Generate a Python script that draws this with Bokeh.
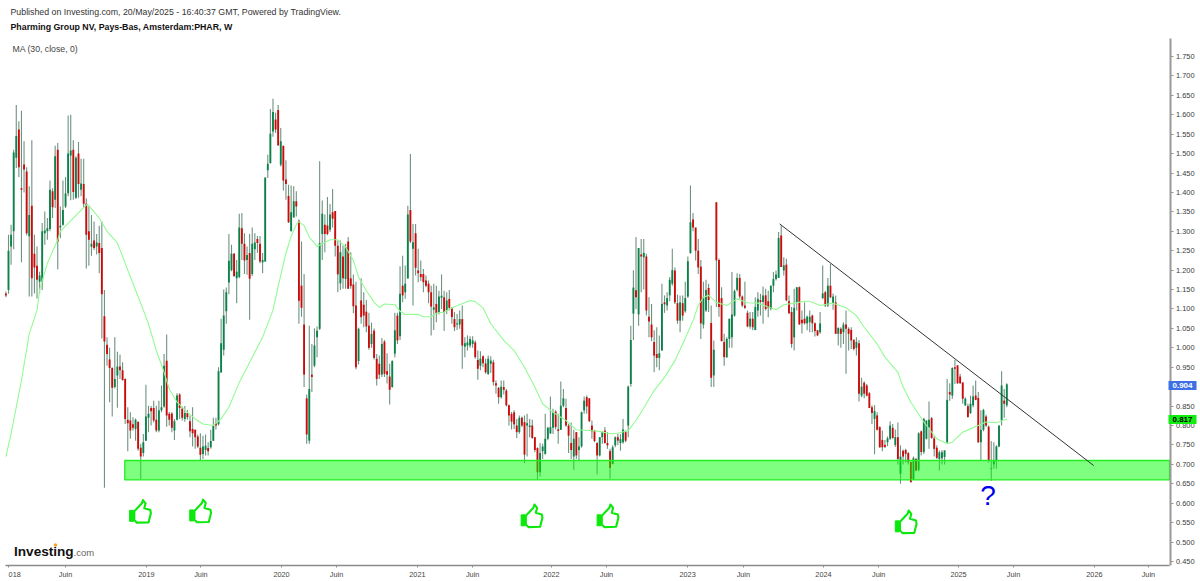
from bokeh.plotting import figure
from bokeh.models import Range1d, FixedTicker, Label, LinearAxis, NumeralTickFormatter
from bokeh.core.properties import value
from bokeh.embed import file_html
from bokeh.resources import INLINE

opens = [1.14,1.149,1.261,1.30,1.489,1.562,1.411,1.472,1.454,1.287,
1.366,1.242,1.211,1.17,1.17,1.295,1.30,1.306,1.403,1.381,
1.51,1.31,1.317,1.364,1.398,1.495,1.51,1.386,1.5,1.407,
1.422,1.371,1.30,1.26,1.276,1.261,1.27,1.257,1.081,1.008,
.97,.948,.899,.929,.952,.942,.92,.815,.813,.803,
.791,.81,.743,.729,.761,.82,.845,.845,.815,.787,
.839,.849,.967,.83,.831,.787,.815,.88,.843,.817,
.832,.811,.791,.789,.772,.743,.727,.737,.742,.744,
.761,.807,.803,.937,.995,1.094,1.168,1.20,1.242,1.179,
1.182,1.308,1.268,1.226,1.244,1.19,1.254,1.28,1.268,1.22,
1.222,1.457,1.476,1.557,1.588,1.612,1.471,1.52,1.433,1.391,
1.30,1.336,1.377,1.327,1.16,1.06,.87,.761,.931,.954,
1.027,1.049,1.293,1.317,1.315,1.304,1.349,1.352,1.263,1.166,
1.235,1.177,1.274,1.179,1.163,1.109,.966,1.122,1.111,1.093,
1.057,1.01,1.044,.972,.959,.931,1.016,.94,.926,.899,
.985,1.083,1.03,1.16,1.143,1.179,1.355,1.255,1.295,1.199,
1.19,1.19,1.173,1.165,1.143,1.098,1.113,1.092,1.129,1.13,
1.096,1.126,1.102,1.074,1.06,1.06,1.074,1.003,1.006,1.006,
1.01,1.014,.969,.954,.978,.96,.933,.959,.963,.909,
.897,.873,.899,.89,.852,.83,.834,.80,.783,.82,
.809,.80,.796,.80,.77,.742,.68,.734,.727,.766,
.78,.794,.836,.79,.789,.851,.845,.80,.755,.72,
.783,.737,.746,.839,.873,.87,.80,.787,.755,.723,
.77,.787,.755,.734,.701,.749,.77,.755,.757,.783,
.80,.907,1.088,1.148,1.086,1.24,1.233,1.235,1.08,1.06,
1.015,.984,.974,.993,1.117,1.109,1.135,1.165,1.199,1.115,
1.07,1.115,1.094,1.132,1.244,1.33,1.31,1.25,1.209,1.06,
1.096,1.154,1.064,.929,1.375,1.226,1.128,1.015,.976,1.023,
1.027,1.083,1.149,1.18,1.132,1.109,1.09,1.055,1.075,1.046,
1.096,1.123,1.118,1.135,1.12,1.10,1.16,1.177,1.18,1.289,
1.199,1.214,1.12,1.092,1.027,1.117,1.156,1.072,1.075,1.063,
1.066,1.083,1.063,1.045,1.04,1.128,1.143,1.109,1.16,1.113,
1.117,1.036,1.049,1.04,1.06,1.049,1.046,1.02,1.0,1.012,
.877,.91,.903,.883,.847,.817,.826,.796,.763,.75,
.757,.766,.794,.75,.77,.676,.735,.737,.729,.706,
.66,.714,.686,.785,.732,.766,.795,.819,.767,.743,
.714,.716,.719,.757,.886,.877,.95,.955,.926,.911,
.852,.85,.832,.852,.877,.871,.757,.789,.823,.797,
.688,.70,.71,.746,.813,.864,.852]

highs = [1.145,1.291,1.317,1.51,1.625,1.583,1.61,1.532,1.465,1.416,
1.534,1.291,1.261,1.196,1.321,1.351,1.334,1.431,1.411,1.52,
1.527,1.364,1.431,1.44,1.598,1.6,1.534,1.493,1.53,1.487,
1.487,1.385,1.364,1.342,1.325,1.293,1.314,1.325,1.149,1.027,
1.0,.95,1.027,.99,.983,.963,.922,.847,.834,.821,
.818,.81,.753,.778,.905,.851,.85,.864,.851,.864,
.903,.984,1.034,.835,.834,.817,.883,.883,.849,.85,
.84,.826,.847,.79,.777,.78,.774,.777,.757,.789,
.82,.82,.95,1.075,1.15,1.155,1.293,1.265,1.244,1.226,
1.345,1.347,1.295,1.261,1.293,1.31,1.295,1.288,1.288,1.244,
1.44,1.497,1.615,1.641,1.605,1.625,1.566,1.52,1.483,1.42,
1.418,1.416,1.403,1.33,1.274,1.19,.88,1.057,1.01,1.05,
1.055,1.48,1.379,1.343,1.388,1.37,1.409,1.352,1.276,1.276,
1.263,1.267,1.285,1.246,1.189,1.17,1.052,1.179,1.143,1.123,
1.09,1.065,1.05,.984,.98,1.025,1.02,.986,.959,.968,
1.09,1.09,1.21,1.237,1.212,1.366,1.499,1.319,1.319,1.255,
1.225,1.203,1.186,1.173,1.16,1.165,1.16,1.147,1.189,1.147,
1.143,1.149,1.105,1.092,1.087,1.096,1.109,1.027,1.032,1.03,
1.03,1.019,.993,.991,.98,.972,.98,.978,.969,.916,
.899,.916,.916,.894,.854,.835,.839,.817,.826,.823,
.826,.83,.817,.815,.77,.744,.755,.753,.83,.797,
.875,.843,.839,.83,.913,.894,.869,.804,.808,.789,
.783,.77,.836,.875,.877,.87,.813,.789,.757,.77,
.785,.796,.783,.74,.749,.772,.778,.778,.817,.787,
.903,1.057,1.20,1.285,1.257,1.28,1.28,1.242,1.13,1.113,
1.045,1.053,1.032,1.165,1.135,1.143,1.182,1.255,1.207,1.137,
1.135,1.135,1.17,1.235,1.418,1.347,1.31,1.28,1.226,1.17,
1.175,1.165,1.109,1.019,1.375,1.23,1.156,1.036,1.027,1.075,
1.195,1.15,1.192,1.19,1.135,1.17,1.096,1.092,1.092,1.13,
1.143,1.139,1.158,1.152,1.147,1.16,1.195,1.199,1.298,1.315,
1.233,1.229,1.135,1.105,1.152,1.156,1.158,1.096,1.117,1.083,
1.096,1.085,1.066,1.046,1.092,1.212,1.146,1.18,1.216,1.14,
1.135,1.053,1.053,1.066,1.096,1.053,1.053,1.023,1.027,1.02,
.923,.914,.907,.886,.852,.852,.834,.798,.787,.763,
.772,.811,.804,.79,.808,.749,.738,.74,.732,.706,
.72,.717,.783,.787,.82,.813,.862,.822,.774,.749,
.736,.737,.736,.92,.909,.95,.969,.955,.933,.911,
.873,.856,.877,.903,.916,.886,.839,.843,.828,.80,
.76,.757,.749,.80,.94,.894,.909]

lows = [1.13,1.139,1.214,1.254,1.463,1.44,1.22,1.40,1.29,1.132,
1.132,1.14,1.127,1.14,1.149,1.265,1.278,1.30,1.334,1.36,
1.202,1.282,1.314,1.36,1.39,1.38,1.381,1.383,1.386,1.39,
1.36,1.204,1.211,1.237,1.252,1.24,1.192,1.024,.64,.954,
.86,.823,.895,.846,.92,.915,.804,.734,.766,.787,
.761,.735,.662,.72,.76,.783,.80,.808,.783,.783,
.834,.846,.797,.80,.783,.763,.813,.817,.813,.81,
.815,.77,.746,.74,.742,.71,.714,.723,.723,.74,
.76,.79,.80,.935,.98,1.062,1.138,1.197,1.182,1.115,
1.179,1.226,1.19,1.188,1.072,1.185,1.226,1.245,1.218,1.192,
1.222,1.437,1.474,1.543,1.553,1.521,1.467,1.405,1.381,1.321,
1.30,1.334,1.338,1.062,1.08,.899,.753,.753,.886,.95,
.976,1.046,1.226,1.246,1.29,1.298,1.31,1.235,1.143,1.149,
1.152,1.152,1.152,1.152,1.089,.945,.957,1.062,1.053,1.04,
.995,1.0,.97,.903,.92,.925,.925,.908,.854,.897,
.975,1.01,1.02,1.117,1.126,1.177,1.27,1.109,1.186,1.169,
1.172,1.143,1.156,1.115,1.032,1.046,1.066,1.086,1.10,1.043,
1.087,1.096,1.062,1.043,1.046,1.049,.946,.976,.993,1.0,
1.0,.972,.918,.942,.95,.933,.93,.935,.903,.882,
.856,.869,.88,.849,.80,.79,.791,.768,.779,.796,
.703,.72,.77,.766,.731,.66,.669,.714,.725,.762,
.778,.778,.79,.753,.789,.847,.797,.729,.714,.686,
.714,.71,.743,.83,.83,.809,.766,.757,.674,.72,
.753,.753,.74,.663,.70,.744,.749,.735,.753,.757,
.77,.90,1.02,1.10,1.057,1.143,1.15,1.083,1.027,1.017,
.937,.95,.942,.993,1.09,1.096,1.12,1.16,1.113,1.062,
1.04,1.07,1.09,1.128,1.242,1.30,1.225,1.19,1.023,1.05,
1.092,1.092,.899,.899,1.105,1.08,1.017,.954,.974,1.0,
1.0,1.08,1.145,1.126,1.105,1.10,1.053,1.049,1.045,1.045,
1.08,1.083,1.062,1.096,1.079,1.096,1.143,1.173,1.18,1.208,
1.186,1.12,1.087,1.0,.993,1.096,1.06,1.037,1.06,1.045,
1.04,1.04,1.029,1.03,1.036,1.125,1.105,1.105,1.128,1.098,
1.036,1.006,1.0,1.01,.933,.993,.997,.993,.98,.862,
.873,.87,.875,.845,.804,.726,.787,.743,.734,.742,
.747,.763,.766,.745,.70,.65,.70,.705,.70,.654,
.66,.682,.682,.723,.727,.764,.74,.766,.72,.714,
.684,.70,.70,.753,.864,.869,.907,.907,.907,.856,
.85,.82,.83,.847,.865,.755,.71,.785,.796,.705,
.658,.689,.689,.744,.80,.82,.847]

closes = [1.135,1.25,1.291,1.503,1.545,1.465,1.407,1.459,1.295,1.342,
1.179,1.207,1.175,1.186,1.30,1.302,1.308,1.407,1.362,1.493,
1.274,1.314,1.355,1.397,1.5,1.508,1.401,1.489,1.422,1.423,
1.371,1.291,1.278,1.268,1.257,1.271,1.244,1.138,1.016,.984,
.948,.897,.92,.952,.942,.917,.817,.806,.787,.794,
.815,.74,.72,.757,.823,.83,.837,.813,.787,.839,
.847,.954,.826,.815,.794,.811,.877,.845,.82,.832,
.821,.785,.78,.77,.746,.725,.746,.748,.734,.76,
.80,.80,.94,1.012,1.083,1.143,1.224,1.242,1.185,1.196,
1.31,1.268,1.225,1.239,1.178,1.268,1.271,1.27,1.222,1.226,
1.438,1.474,1.551,1.607,1.562,1.521,1.532,1.431,1.422,1.323,
1.349,1.377,1.364,1.121,1.103,.931,.777,.894,.925,1.006,
1.044,1.269,1.345,1.293,1.293,1.343,1.332,1.263,1.189,1.246,
1.179,1.259,1.152,1.159,1.107,.95,1.049,1.079,1.083,1.055,
1.0,1.036,.974,.92,.931,1.01,.933,.931,.892,.966,
1.045,1.019,1.139,1.135,1.165,1.343,1.274,1.272,1.206,1.192,
1.182,1.169,1.16,1.143,1.106,1.104,1.089,1.132,1.134,1.092,
1.122,1.103,1.079,1.053,1.063,1.074,1.006,1.012,1.014,1.023,
1.019,.976,.946,.972,.96,.937,.972,.967,.912,.903,
.873,.90,.892,.852,.826,.81,.803,.783,.82,.80,
.725,.806,.80,.768,.737,.68,.729,.746,.766,.794,
.796,.834,.796,.786,.851,.87,.80,.774,.737,.766,
.723,.746,.834,.864,.849,.811,.785,.76,.723,.77,
.783,.755,.749,.691,.744,.77,.761,.765,.79,.761,
.90,1.02,1.155,1.13,1.257,1.235,1.244,1.096,1.068,1.027,
.98,.974,.986,1.113,1.112,1.128,1.175,1.2,1.117,1.07,
1.117,1.083,1.128,1.223,1.323,1.31,1.25,1.207,1.063,1.13,
1.149,1.123,.923,.995,1.225,1.105,1.017,.976,1.023,1.075,
1.086,1.146,1.18,1.132,1.109,1.103,1.055,1.075,1.053,1.105,
1.126,1.118,1.135,1.10,1.103,1.16,1.177,1.189,1.283,1.208,
1.212,1.122,1.089,1.01,1.103,1.156,1.06,1.063,1.063,1.08,
1.08,1.063,1.043,1.032,1.063,1.14,1.109,1.16,1.13,1.132,
1.036,1.051,1.036,1.06,1.049,1.036,1.019,.997,1.015,.882,
.90,.882,.877,.845,.832,.837,.789,.744,.744,.745,
.767,.80,.768,.77,.714,.72,.72,.727,.706,.654,
.716,.684,.78,.732,.817,.813,.815,.768,.74,.717,
.731,.731,.736,.866,.88,.948,.946,.909,.909,.869,
.869,.822,.856,.875,.866,.757,.789,.84,.80,.71,
.69,.71,.746,.80,.903,.856,.906]

ma_weeks = [0,2,6,9,12,13,16,20,21,26,31,32,36,39,43,47,50,53,55,58,61,63,66,70,73,76,80,83,86,90,95,99,
103,105,108,110,112,113,114,115,117,120,125,128,131,134,136,139,142,144,146,150,152,154,159,161,164,166,169,173,179,181,
184,187,192,196,200,204,207,211,216,220,225,229,233,236,240,243,245,250,254,258,261,265,267,269,271,274,278,282,286,290,
294,297,300,304,308,310,314,319,324,328,331,336,339,344,346,349,354,359,363,365,369,375,378,382,386]
ma_values = [.72,.779,.916,1.036,1.097,1.149,1.218,1.278,1.30,1.334,1.368,1.366,1.334,1.30,1.27,1.2,1.149,1.097,1.062,.993,.937,.894,.86,.834,.817,.804,.80,.817,.847,.911,.976,1.027,
1.097,1.158,1.244,1.287,1.317,1.325,1.319,1.315,1.285,1.261,1.278,1.278,1.259,1.225,1.182,1.147,1.117,1.104,1.113,1.111,1.094,1.086,1.086,1.08,1.08,1.089,1.092,1.106,1.122,1.119,
1.103,1.062,1.019,.993,.95,.899,.856,.834,.813,.789,.787,.785,.779,.78,.787,.813,.834,.89,.924,.967,1.01,1.07,1.109,1.13,1.135,1.117,1.109,1.126,1.116,1.115,
1.105,1.098,1.111,1.115,1.12,1.12,1.109,1.115,1.103,1.083,1.053,1.01,.976,.937,.899,.86,.809,.766,.753,.757,.783,.80,.809,.807,.817]

trend_weeks = [298.4, 419.5]
trend_prices = [1.319, .697]
zone_low, zone_high = .66, .71
thumb_weeks = [47.7, 70.9, 198.7, 228.0, 343.0]
thumb_prices = [.61, .611, .5985, .5985, .583]
y_ticks = [.45 + .05 * k for k in range(27)]
x_ticks = [23.0, 54.2, 75.2, 106.3, 127.5, 158.7, 180.0, 210.4, 231.6, 262.9, 284.4, 315.3, 336.6, 367.4, 388.6, 419.8, 440.6]
x_labels = ["Juin", "2019", "Juin", "2020", "Juin", "2021", "Juin", "2022", "Juin", "2023", "Juin", "2024", "Juin", "2025", "Juin", "2026", "Juin"]

PX_WEEK = 2.593
PX_UNIT = 388.5
def X(px):
    return (px - 5.4) / PX_WEEK
def Y(py):
    return .45 + (561 - py) / PX_UNIT

p = figure(width=1200, height=581, output_backend="svg", toolbar_location=None,
           x_range=Range1d(X(0), X(1200)), y_range=Range1d(Y(581), Y(0)),
           min_border_left=0, min_border_right=0, min_border_top=0, min_border_bottom=0,
           x_axis_location="below", y_axis_location="right", tools="")
p.margin = 0
p.outline_line_color = None
p.grid.visible = False
p.background_fill_color = "white"

xa = p.xaxis[0]
xa.fixed_location = Y(565.3)
xa.bounds = (X(5), X(1169))
xa.ticker = FixedTicker(ticks=[1.0] + x_ticks)
xa.major_label_overrides = dict(zip(x_ticks, x_labels)) | {1.0: "\u00a0\u00a0\u00a0\u00a0018"}
xa.axis_line_color = "#8a8a8a"
xa.axis_line_width = 1.5
xa.major_tick_line_color = "#8a8a8a"
xa.major_tick_out = 2
xa.major_tick_in = 0
xa.minor_tick_line_color = None
xa.major_label_standoff = 2
xa.major_label_text_font = "Liberation Sans"
xa.major_label_text_font_size = "7.3px"
xa.major_label_text_color = "#444444"

ya = p.yaxis[0]
ya.fixed_location = X(1169.5)
ya.bounds = (Y(565), Y(38))
ya.ticker = FixedTicker(ticks=y_ticks)
ya.formatter = NumeralTickFormatter(format="0.000")
ya.axis_line_color = "#999999"
ya.axis_line_width = 2
ya.major_tick_line_color = "#999999"
ya.major_tick_out = 3
ya.major_tick_in = 0
ya.minor_tick_line_color = None
ya.major_label_standoff = 3
ya.major_label_text_font = "Liberation Sans"
ya.major_label_text_font_size = "7.4px"
ya.major_label_text_color = "#3a3a3a"

weeks = list(range(len(closes)))
up = [c >= o for o, c in zip(opens, closes)]
mid_up = [w for w, u in zip(weeks, up) if u]
mid_dn = [w for w, u in zip(weeks, up) if not u]
p.segment(weeks, lows, weeks, highs, line_color="#6f9280", line_width=1.1)
p.vbar(x=mid_up, width=.72, bottom=[o for o, u in zip(opens, up) if u], top=[c for c, u in zip(closes, up) if u],
       fill_color="#0b8249", line_color=None)
p.vbar(x=mid_dn, width=.72, bottom=[c for c, u in zip(closes, up) if not u], top=[o for o, u in zip(opens, up) if not u],
       fill_color="#cc0a0a", line_color=None)
p.line(ma_weeks, ma_values, line_color="#93fb93", line_width=1.1)

p.quad(left=[X(124.3)], right=[X(1169)], bottom=[zone_low], top=[zone_high],
       fill_color="#00ff00", fill_alpha=.5, line_color="#22ee22", line_width=1.3)
p.line(trend_weeks, trend_prices, line_color="#333333", line_width=1)

hand = [(4.7, 12), (12.3, 4), (13.3, .7), (16, 4), (14.7, 9), (20.7, 10.7), (21.3, 14), (19, 23), (7.3, 23.3), (4.7, 20.7)]
cuff = [(0, 11), (4, 11), (4, 22), (0, 22)]
def shape(pts):
    return ([[w + dx / PX_WEEK for dx, dy in pts] for w in thumb_weeks],
            [[v - dy / PX_UNIT for dx, dy in pts] for v in thumb_prices])
hx, hy = shape(hand)
cx, cy = shape(cuff)
p.patches(hx, hy, fill_alpha=0, line_color="#0be80b", line_width=2.1, line_join="round")
p.patches(cx, cy, fill_color="#0be80b", line_color="#0be80b", line_width=1)
p.scatter([X(55)], [Y(544.5)], size=2.6, color="#f7a11a")

def lab(px, py, text, size, color="#222222", style="normal", align="left", font="Liberation Sans", **kw):
    p.add_layout(Label(x=X(px), y=Y(py), text=text, text_font=font, text_font_size=size,
                       text_color=color, text_font_style=style, text_align=align, text_baseline="middle", **kw))

lab(10, 11.5, "Published on Investing.com, 20/May/2025 - 16:40:37 GMT, Powered by TradingView.", "8.8px", "#333333")
lab(10, 26.5, "Pharming Group NV, Pays-Bas, Amsterdam:PHAR, W", "8.8px", "#111111", "bold")
lab(12, 48, "MA (30, close, 0)", "8.7px", "#444444")
lab(13.5, 550.5, "Investing", "13.6px", "#111111", "bold")
lab(73, 551.5, ".com", "9.5px", "#666666")
lab(987.5, 495, "?", "28px", "#0000ee", align="center")
lab(1168, 385, "0.904", "8px", "white", "bold", background_fill_color="#3f6fe6", padding=(4, 4, 2, 2))
lab(1168, 419, "0.817", "8px", "black", "bold", background_fill_color="#0fee0f", padding=(4, 4, 2, 2))

open("out.html", "w").write(file_html(p, INLINE))
